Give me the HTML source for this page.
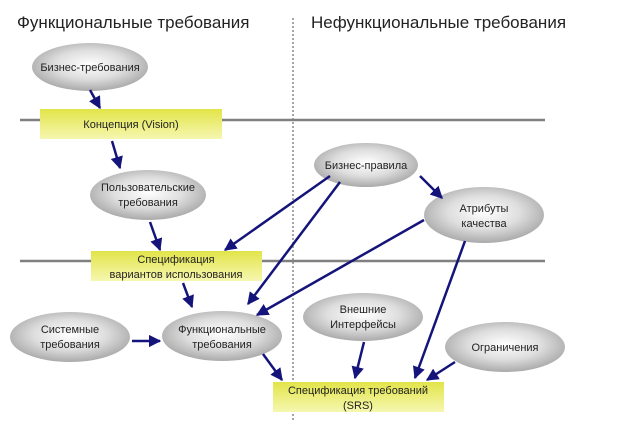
<!DOCTYPE html>
<html><head><meta charset="utf-8"><style>
html,body{margin:0;padding:0;background:#fff;}
svg{display:block;font-family:"Liberation Sans","DejaVu Sans",sans-serif;}
</style></head><body>
<svg width="626" height="439" viewBox="0 0 626 439" xmlns="http://www.w3.org/2000/svg">
<defs>
<radialGradient id="eg" cx="50%" cy="45%" r="60%">
<stop offset="0" stop-color="#ffffff"/><stop offset="0.5" stop-color="#dedede"/><stop offset="1" stop-color="#a0a0a0"/>
</radialGradient>
<linearGradient id="yg" x1="0" y1="0" x2="0" y2="1">
<stop offset="0" stop-color="#e2e44a"/><stop offset="1" stop-color="#f6f7b0"/>
</linearGradient>
<marker id="ah" viewBox="0 0 10 10" refX="9" refY="5" markerWidth="5" markerHeight="5" orient="auto">
<path d="M0,0 L10,5 L0,10 z" fill="#14147a"/>
</marker>
</defs>
<text x="17" y="28" font-size="17" fill="#222">Функциональные требования</text>
<text x="311" y="28" font-size="17" fill="#222">Нефункциональные требования</text>
<line x1="293" y1="18" x2="293" y2="422" stroke="#888" stroke-width="1.5" stroke-dasharray="2,2"/>
<line x1="20" y1="120" x2="545" y2="120" stroke="#808080" stroke-width="2.5"/>
<line x1="20" y1="261" x2="545" y2="261" stroke="#808080" stroke-width="2.5"/>

<rect x="40" y="109" width="182" height="30" fill="url(#yg)"/>
<rect x="91" y="251" width="171" height="30" fill="url(#yg)"/>
<rect x="273" y="382" width="171" height="30" fill="url(#yg)"/>

<g fill="url(#eg)">
<ellipse cx="90" cy="67" rx="58" ry="24"/>
<ellipse cx="148" cy="195" rx="58" ry="25"/>
<ellipse cx="366" cy="165" rx="52" ry="22"/>
<ellipse cx="484" cy="215" rx="60" ry="28"/>
<ellipse cx="70" cy="337" rx="60" ry="25"/>
<ellipse cx="222" cy="336" rx="60" ry="25"/>
<ellipse cx="363" cy="317" rx="60" ry="24"/>
<ellipse cx="505" cy="347" rx="60" ry="25"/>
</g>

<g stroke="#14147a" stroke-width="2.5" fill="none" marker-end="url(#ah)">
<line x1="90" y1="90" x2="100" y2="108"/>
<line x1="112" y1="141" x2="120" y2="168"/>
<line x1="150" y1="222" x2="160" y2="250"/>
<line x1="330" y1="176" x2="225" y2="250"/>
<line x1="340" y1="182" x2="248" y2="304"/>
<line x1="424" y1="220" x2="257" y2="315"/>
<line x1="420" y1="176" x2="442" y2="198"/>
<line x1="183" y1="283" x2="192" y2="307"/>
<line x1="132" y1="341" x2="160" y2="341"/>
<line x1="263" y1="354" x2="282" y2="380"/>
<line x1="364" y1="342" x2="355" y2="378"/>
<line x1="465" y1="241" x2="415" y2="378"/>
<line x1="455" y1="362" x2="427" y2="380"/>
</g>

<g font-size="11" fill="#222" text-anchor="middle">
<text x="90" y="71">Бизнес-требования</text>
<text x="131" y="128">Концепция (Vision)</text>
<text x="148" y="191">Пользовательские</text>
<text x="148" y="206">требования</text>
<text x="366" y="169">Бизнес-правила</text>
<text x="484" y="212">Атрибуты</text>
<text x="484" y="227">качества</text>
<text x="176" y="263">Спецификация</text>
<text x="176" y="278">вариантов использования</text>
<text x="70" y="333">Системные</text>
<text x="70" y="348">требования</text>
<text x="222" y="333">Функциональные</text>
<text x="222" y="348">требования</text>
<text x="363" y="313">Внешние</text>
<text x="363" y="328">Интерфейсы</text>
<text x="505" y="351">Ограничения</text>
<text x="358" y="394">Спецификация требований</text>
<text x="358" y="409">(SRS)</text>
</g>
</svg>
</body></html>
